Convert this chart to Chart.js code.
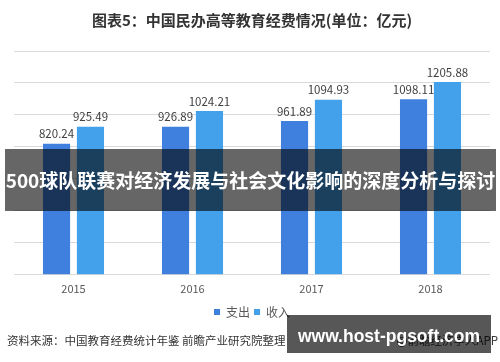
<!DOCTYPE html>
<html>

<head>
    <meta charset="utf-8">
    <style>
        html, body {
            margin: 0;
            padding: 0;
            background: #ffffff;
        }

        #wrap {
            position: relative;
            width: 500px;
            height: 362px;
            overflow: hidden;
            font-family: "Noto Sans CJK SC", sans-serif;
        }

        #chart {
            position: absolute;
            left: 0;
            top: 0;
        }

        .source {
            position: absolute;
            left: 7px;
            top: 332px;
            font-size: 11.5px;
            color: #333333;
            white-space: nowrap;
        }

        .source-right {
            position: absolute;
            right: 2px;
            top: 332px;
            font-size: 11.5px;
            color: #333333;
            white-space: nowrap;
        }

        .banner {
            position: absolute;
            left: 5px;
            width: 491px;
            top: 149px;
            height: 62px;
            background: rgba(0, 0, 0, 0.6);
            color: #ffffff;
            font-weight: bold;
            font-size: 19px;
            line-height: 62px;
            text-align: center;
            white-space: nowrap;
        }

        .site {
            position: absolute;
            left: 287px;
            width: 204px;
            top: 315px;
            height: 38px;
            background: rgba(0, 0, 0, 0.66);
            color: #ffffff;
            font-family: "Liberation Sans", sans-serif;
            font-weight: bold;
            font-size: 17.5px;
            line-height: 42px;
            text-align: center;
        }
    </style>
</head>

<body>
    <div id="wrap">
        <canvas id="chart" width="500" height="362"></canvas>
        <div class="source">资料来源：中国教育经费统计年鉴 前瞻产业研究院整理</div>
        <div class="source-right">@前瞻经济学人APP</div>
        <div class="banner">500球队联赛对经济发展与社会文化影响的深度分析与探讨</div>
        <div class="site">www.host-pgsoft.com</div>
    </div>

    <script src="https://cdn.jsdelivr.net/npm/chart.js@4/dist/chart.umd.min.js"></script>
    <script>
        const years = ['2015', '2016', '2017', '2018'];
        const spending = [820.24, 926.89, 961.89, 1098.11];
        const income = [925.49, 1024.21, 1094.93, 1205.88];
        const seriesNames = ['支出', '收入'];
        const chartTitle = '图表5：中国民办高等教育经费情况(单位：亿元)';

        const fontFamily = '"Noto Sans CJK SC", sans-serif';

        // value labels above each bar
        const valueLabels = {
            id: 'valueLabels',
            afterDatasetsDraw(chart) {
                const ctx = chart.ctx;
                ctx.save();
                ctx.font = '11.5px ' + fontFamily;
                ctx.fillStyle = '#404040';
                ctx.textAlign = 'center';
                ctx.textBaseline = 'bottom';
                chart.data.datasets.forEach((dataset, i) => {
                    chart.getDatasetMeta(i).data.forEach((bar, j) => {
                        ctx.fillText(dataset.data[j].toFixed(2), bar.x, bar.y - 4);
                    });
                });
                ctx.restore();
            }
        };

        new Chart(document.getElementById('chart'), {
            type: 'bar',
            data: {
                labels: years,
                datasets: [
                    {
                        label: seriesNames[0],
                        data: spending,
                        backgroundColor: '#3f80de'
                    },
                    {
                        label: seriesNames[1],
                        data: income,
                        backgroundColor: '#43a1ec'
                    }
                ]
            },
            options: {
                responsive: false,
                animation: false,
                devicePixelRatio: 1,
                categoryPercentage: 0.57,
                barPercentage: 0.8,
                layout: {
                    padding: { left: 14, right: 10, top: 0, bottom: 34 }
                },
                plugins: {
                    title: {
                        display: true,
                        text: chartTitle,
                        color: '#333333',
                        font: { size: 15, weight: 'bold', family: fontFamily, lineHeight: 1.2 },
                        padding: { top: 11, bottom: 22 }
                    },
                    legend: {
                        position: 'bottom',
                        labels: {
                            boxWidth: 6,
                            boxHeight: 6,
                            padding: 4,
                            color: '#595959',
                            font: { size: 12, family: fontFamily }
                        }
                    },
                    tooltip: { enabled: false }
                },
                scales: {
                    x: {
                        grid: { display: false, drawTicks: false },
                        border: { display: false },
                        ticks: {
                            color: '#595959',
                            padding: 7,
                            font: { size: 11, family: fontFamily }
                        }
                    },
                    y: {
                        min: 0,
                        max: 1400,
                        grid: { color: '#d9d9d9', drawTicks: false },
                        border: { display: false },
                        ticks: { display: false, stepSize: 200 }
                    }
                }
            },
            plugins: [valueLabels]
        });
    </script>
</body>

</html>
